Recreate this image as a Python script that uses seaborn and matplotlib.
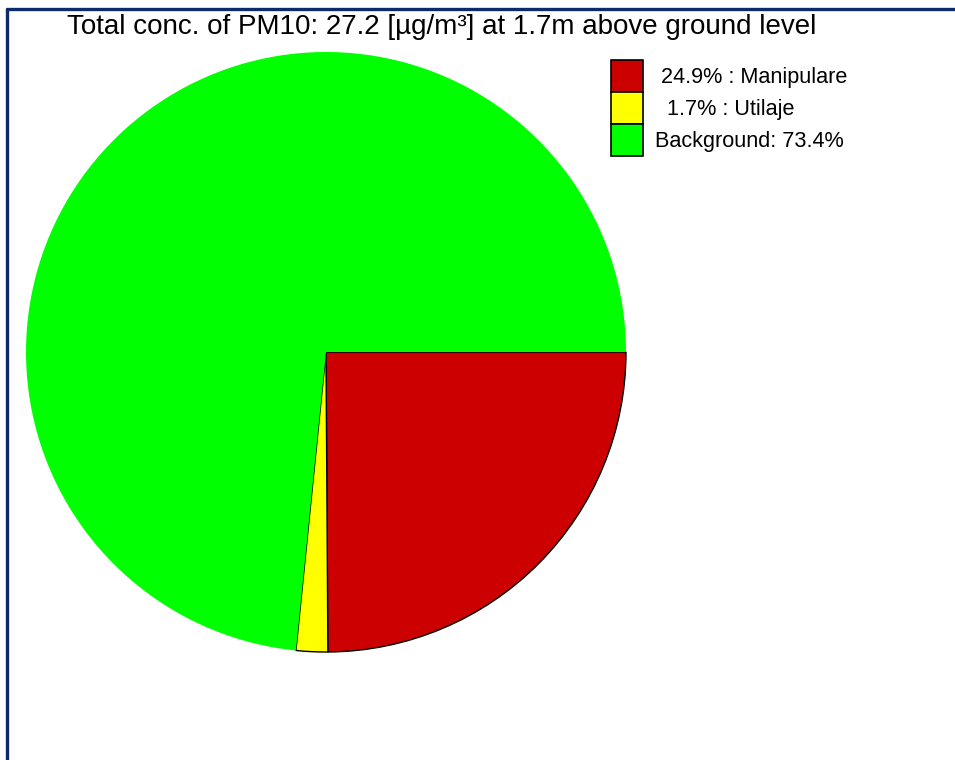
import matplotlib
matplotlib.use("Agg")
import matplotlib.pyplot as plt
import seaborn as sns
from matplotlib.patches import Patch
from matplotlib.lines import Line2D

# Source contributions to PM10 concentration
sources = ["Manipulare", "Utilaje", "Background"]
shares = [24.9, 1.7, 73.4]
labels = [" 24.9% : Manipulare", "  1.7% : Utilaje", "Background: 73.4%"]
colors = ["#CC0000", "#FFFF00", "#00FF00"]
total_conc = 27.2
height_m = 1.7

sns.set_theme(style="white")
plt.rcParams["font.family"] = ["Liberation Sans", "DejaVu Sans"]

fig = plt.figure(figsize=(9.55, 7.6), dpi=100)
ax = fig.add_axes([0, 0, 1, 1])

wedges, _ = ax.pie(shares, colors=colors, startangle=0, counterclock=False,
                   center=(326, 408), radius=300,
                   wedgeprops=dict(linewidth=1.0, edgecolor="black"))
wedges[2].set_edgecolor("none")
ax.set_xlim(0, 955)
ax.set_ylim(0, 760)
ax.set_aspect("equal")
ax.axis("off")

leg_fs = 15.6
handles = [Patch(facecolor=c, edgecolor="black", linewidth=1.2) for c in colors]
leg = ax.legend(handles, labels, loc="upper left",
                bbox_to_anchor=(611 / 955, 1 - 60 / 760),
                frameon=False, fontsize=leg_fs, labelspacing=0.0,
                handlelength=1.47, handleheight=1.895, handletextpad=0.55,
                borderpad=0, borderaxespad=0, labelcolor="black")

fig.text(442 / 955, 1 - 27 / 760,
         f"Total conc. of PM10: {total_conc} [µg/m³] at {height_m}m above ground level",
         ha="center", va="center", fontsize=20, color="black")

# Window frame lines (top and left)
navy = "#0D2B6B"
fig.add_artist(Line2D([7 / 955, 1], [1 - 9 / 760, 1 - 9 / 760], color=navy,
                      linewidth=2.4, transform=fig.transFigure))
fig.add_artist(Line2D([7 / 955, 7 / 955], [0, 1 - 9 / 760], color=navy,
                      linewidth=2.4, transform=fig.transFigure))

fig.savefig("out.png", dpi=100, facecolor="white")
